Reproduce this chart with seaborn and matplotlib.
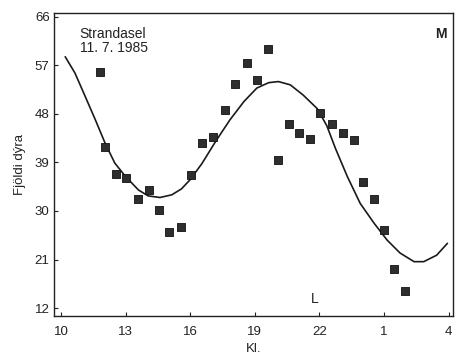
import numpy as np
import pandas as pd
import matplotlib
matplotlib.use("Agg")
import matplotlib.pyplot as plt
import seaborn as sns

# hours after midnight of 11.7 (1 = 25, 4 = 28)
obs_hour = [11.8, 12.06, 12.56, 13.02, 13.57, 14.08, 14.57, 15.04, 15.58, 16.03,
            16.56, 17.08, 17.6, 18.08, 18.65, 19.1, 19.64, 20.06, 20.59, 21.07,
            21.58, 22.05, 22.6, 23.08, 23.6, 24.01, 24.56, 25.0, 25.49, 25.97]
obs_count = [55.7, 41.9, 36.9, 36.1, 32.2, 33.9, 30.1, 26.1, 27.1, 36.6,
             42.7, 43.8, 48.7, 53.5, 57.4, 54.3, 60.1, 39.4, 46.1, 44.4,
             43.4, 48.2, 46.1, 44.4, 43.2, 35.4, 32.2, 26.5, 19.2, 15.2]

# fitted curve
fit_hour = [10.2, 10.65, 11.1, 11.6, 12.05, 12.5, 13.0, 13.6, 14.05, 14.6,
            15.15, 15.6, 16.0, 16.55, 17.2, 17.85, 18.5, 19.1, 19.65, 20.1,
            20.65, 21.25, 21.9, 22.35, 22.75, 23.3, 23.9, 24.55, 25.15, 25.75,
            26.4, 26.85, 27.45, 27.95]
fit_count = [58.6, 55.6, 51.5, 46.9, 42.6, 38.9, 36.4, 33.9, 32.8, 32.5,
             33.0, 34.1, 35.8, 38.8, 43.0, 46.9, 50.3, 52.8, 53.8, 54.0,
             53.4, 51.5, 49.0, 45.8, 41.6, 36.4, 31.4, 27.7, 24.6, 22.2,
             20.6, 20.6, 21.8, 24.0]

xtick_pos = [10, 13, 16, 19, 22, 25, 28]
xtick_labels = ["10", "13", "16", "19", "22", "1", "4"]
ytick_pos = [12, 21, 30, 39, 48, 57, 66]

sns.set_style("ticks")
plt.rcParams["font.family"] = ["Liberation Sans", "DejaVu Sans"]

obs = pd.DataFrame({"hour": obs_hour, "count": obs_count})
fit = pd.DataFrame({"hour": fit_hour, "count": fit_count})

fig = plt.figure(figsize=(4.56, 3.54), dpi=100)
ax = fig.add_axes([0.118, 0.107, 0.875, 0.856])

sns.lineplot(data=fit, x="hour", y="count", ax=ax, color="#1a1a1a", linewidth=1.2,
             sort=False)
sns.scatterplot(data=obs, x="hour", y="count", ax=ax, marker="s", s=34,
                color="#2e2e2e", edgecolor="#111111", linewidth=0.6, zorder=3)

ax.set_xlim(9.67, 28.2)
ax.set_ylim(10.5, 66.7)
ax.set_xticks(xtick_pos)
ax.set_xticklabels(xtick_labels)
ax.set_yticks(ytick_pos)
ax.tick_params(direction="in", length=3, width=0.8, labelsize=9.5, colors="#222222")
ax.tick_params(axis="x", pad=7)
ax.tick_params(axis="y", pad=3)

for side in ["left", "right", "top", "bottom"]:
    ax.spines[side].set_visible(True)
    ax.spines[side].set_linewidth(1.0)
    ax.spines[side].set_color("#222222")

ax.set_xlabel("Kl.", fontsize=9.5, color="#222222", labelpad=4)
ax.set_ylabel("Fjöldi dýra", fontsize=9.5, color="#222222", labelpad=6)

ax.text(0.065, 0.955, "Strandasel\n11. 7. 1985", transform=ax.transAxes,
        fontsize=10, color="#222222", va="top", ha="left", linespacing=1.05)
ax.text(0.985, 0.955, "M", transform=ax.transAxes, fontsize=10, fontweight="bold",
        color="#222222", va="top", ha="right")
ax.text(21.8, 13.6, "L", fontsize=10, color="#222222", va="center", ha="center")

fig.savefig("out.png", dpi=100)
